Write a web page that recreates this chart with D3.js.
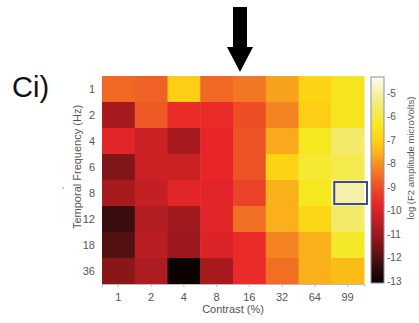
<!DOCTYPE html>
<html>
<head>
<meta charset="utf-8">
<script src="https://cdn.jsdelivr.net/npm/d3@7"></script>
<style>
  body { margin: 0; background: #fff; }
  svg { display: block; font-family: "Liberation Sans", Arial, sans-serif; }
</style>
</head>
<body>
<figure id="heat" style="margin:0"></figure>
<script>
// contrast (%) columns and temporal frequency (Hz) rows
const contrasts = ["1", "2", "4", "8", "16", "32", "64", "99"];
const freqs = ["1", "2", "4", "6", "8", "12", "18", "36"];

// log(F2 amplitude microVolts), one row per frequency
const row1 = [-8.6, -8.7, -7.1, -8.6, -8.4, -7.8, -7.0, -6.5];
const row2 = [-10.8, -8.8, -9.6, -9.6, -9.0, -8.2, -7.1, -6.5];
const row4 = [-9.8, -10.2, -10.8, -9.7, -8.9, -7.7, -6.4, -5.6];
const row6 = [-11.4, -10.2, -10.2, -9.7, -8.9, -7.0, -6.2, -5.9];
const row8 = [-10.8, -10.3, -9.8, -9.8, -9.2, -7.6, -6.4, -5.0];
const row12 = [-12.3, -10.6, -10.9, -9.8, -8.5, -7.6, -6.9, -5.6];
const row18 = [-12.0, -10.5, -11.0, -9.9, -9.6, -8.2, -7.6, -6.3];
const row36 = [-11.3, -10.7, -13.0, -10.8, -9.6, -8.5, -7.6, -7.4];
const rows = [row1, row2, row4, row6, row8, row12, row18, row36];

const cbarTicks = [-5, -6, -7, -8, -9, -10, -11, -12, -13];
const highlight = { contrast: "99", freq: "8" };

const width = 419, height = 323;
const svg = d3.select("#heat").append("svg")
  .attr("width", width)
  .attr("height", height);

const x = d3.scaleBand().domain(contrasts).range([102, 364]);
const y = d3.scaleBand().domain(freqs).range([76, 284]);

// hot-like colormap, a bit washed out like the print
const color = d3.scaleLinear()
  .domain([-13.1, -12.3, -11.3, -10.5, -9.7, -8.8, -8.2, -7.6, -7.0, -6.4, -5.6, -5.0, -4.3])
  .range(["#050000", "#3a0e0e", "#8a1618", "#b81e22", "#e8262a", "#ee5a24", "#f48422",
          "#fab01a", "#fdd414", "#f5e81e", "#f4ea6a", "#f6f0a8", "#fefcf0"])
  .clamp(true);

const cells = [];
rows.forEach((r, i) => r.forEach((v, j) => cells.push({ f: freqs[i], c: contrasts[j], v: v })));

svg.append("g").selectAll("rect")
  .data(cells)
  .enter()
  .append("rect")
  .attr("x", d => x(d.c))
  .attr("y", d => y(d.f))
  .attr("width", x.bandwidth() + 0.5)
  .attr("height", y.bandwidth() + 0.5)
  .attr("fill", d => color(d.v));

// highlighted cell
svg.append("rect")
  .attr("x", x(highlight.contrast) + 3)
  .attr("y", y(highlight.freq) + 2)
  .attr("width", x.bandwidth())
  .attr("height", y.bandwidth() - 4)
  .attr("fill", "none")
  .attr("stroke", "#3d4d8f")
  .attr("stroke-width", 2);

// axes
const xAxis = svg.append("g")
  .attr("transform", "translate(0,284)")
  .call(d3.axisBottom(x).tickSize(3).tickPadding(6));
const yAxis = svg.append("g")
  .attr("transform", "translate(102,0)")
  .call(d3.axisLeft(y).tickSize(0).tickPadding(7));
[xAxis, yAxis].forEach(a => {
  a.select(".domain").attr("stroke", "#bbb");
  a.selectAll("line").attr("stroke", "#bbb");
  a.selectAll("text").attr("fill", "#555").style("font-size", "11px")
    .style("font-family", "'Liberation Sans', Arial, sans-serif");
});
yAxis.select(".domain").remove();

svg.append("text")
  .attr("x", 233).attr("y", 313)
  .attr("text-anchor", "middle")
  .attr("fill", "#555")
  .style("font-size", "11px")
  .text("Contrast (%)");

svg.append("text")
  .attr("transform", "translate(81,167) rotate(-90)")
  .attr("text-anchor", "middle")
  .attr("fill", "#555")
  .style("font-size", "11px")
  .text("Temporal Frequency (Hz)");

svg.append("circle").attr("cx", 63).attr("cy", 188).attr("r", 0.8).attr("fill", "#888");

// colorbar
const cy = d3.scaleLinear().domain([-13.08, -4.32]).range([283, 77]);
const grad = svg.append("defs").append("linearGradient")
  .attr("id", "cbar").attr("x1", 0).attr("y1", 1).attr("x2", 0).attr("y2", 0);
grad.selectAll("stop")
  .data(d3.range(0, 1.0001, 0.02))
  .enter().append("stop")
  .attr("offset", d => d)
  .attr("stop-color", d => color(-13.08 + d * (13.08 - 4.32)));

svg.append("rect")
  .attr("x", 371).attr("y", 77)
  .attr("width", 13).attr("height", 206)
  .attr("fill", "url(#cbar)")
  .attr("stroke", "#8a8ea8")
  .attr("stroke-width", 1);

const cAxis = svg.append("g")
  .attr("transform", "translate(384,0)")
  .call(d3.axisRight(cy).tickValues(cbarTicks).tickSize(0).tickPadding(3).tickFormat(d => String(d)));
cAxis.select(".domain").remove();
cAxis.selectAll("text").attr("fill", "#555").style("font-size", "10px")
  .style("font-family", "'Liberation Sans', Arial, sans-serif");

svg.append("text")
  .attr("transform", "translate(414,158) rotate(-90)")
  .attr("text-anchor", "middle")
  .attr("fill", "#555")
  .style("font-size", "9.5px")
  .text("log (F2 amplitude microVolts)");

// panel label
svg.append("text")
  .attr("x", 12).attr("y", 97)
  .attr("fill", "#111")
  .style("font-size", "29px")
  .text("Ci)");

// arrow above the 16% column
const ax = x("16") + 7;
svg.append("path")
  .attr("d", `M${ax - 7},7 H${ax + 7} V47 H${ax + 13} L${ax},72 L${ax - 13},47 H${ax - 7} Z`)
  .attr("fill", "#000");
</script>
</body>
</html>
